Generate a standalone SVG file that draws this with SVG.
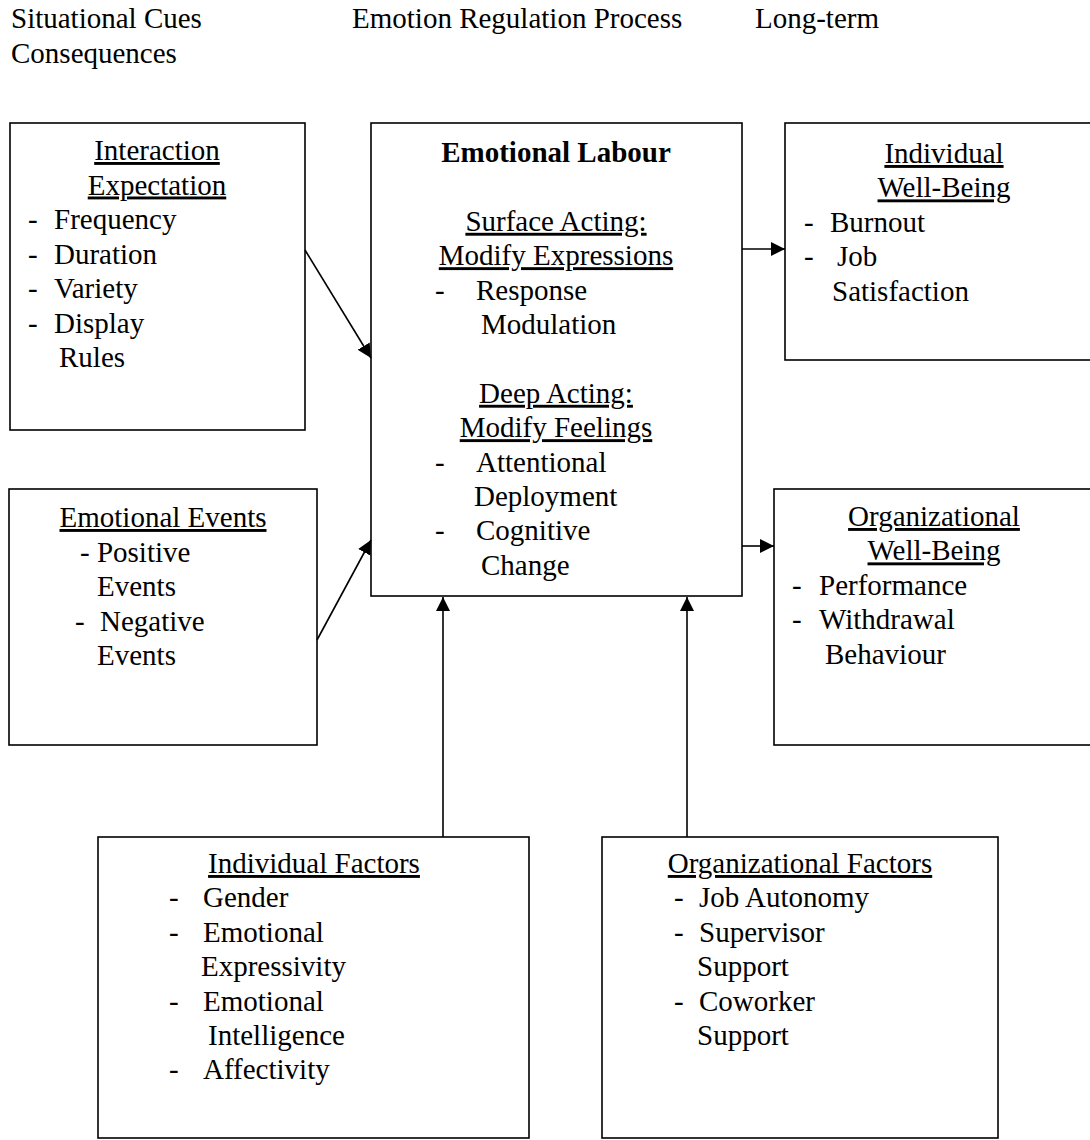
<svg xmlns="http://www.w3.org/2000/svg" width="1090" height="1140" viewBox="0 0 1090 1140">
<style>
text{font-size:29px;fill:#000}
.c{text-anchor:middle}
.u{text-decoration:underline}
.b{font-weight:bold}
.box{fill:#fff;stroke:#000;stroke-width:1.6}
.con{stroke:#000;stroke-width:1.6;fill:none}
</style>
<defs>
<marker id="ah" markerUnits="userSpaceOnUse" markerWidth="15" markerHeight="14" refX="14" refY="7" orient="auto">
<path d="M0,0 L14,7 L0,14 z" fill="#000"/>
</marker>
</defs>
<rect width="1090" height="1140" fill="#fff"/>
<g font-family="Liberation Serif, Tinos, DejaVu Serif, serif">
<g id="header">
<text x="11" y="28">Situational Cues</text>
<text x="11" y="63">Consequences</text>
<text x="352" y="28">Emotion Regulation Process</text>
<text x="755" y="28">Long-term</text>
</g>
<g id="interaction-expectation">
<rect class="box" x="10" y="123" width="295" height="307"/>
<text class="c u" x="157" y="160">Interaction</text>
<text class="c u" x="157" y="194.5">Expectation</text>
<text x="28" y="229">-</text><text x="54" y="229">Frequency</text>
<text x="28" y="263.5">-</text><text x="54" y="263.5">Duration</text>
<text x="28" y="298">-</text><text x="54" y="298">Variety</text>
<text x="28" y="332.5">-</text><text x="54" y="332.5">Display</text>
<text x="59" y="367">Rules</text>
</g>
<g id="emotional-events">
<rect class="box" x="9" y="489" width="308" height="256"/>
<text class="c u" x="163" y="527">Emotional Events</text>
<text x="80" y="562">- Positive</text>
<text x="97" y="596">Events</text>
<text x="75" y="631">-</text><text x="100" y="631">Negative</text>
<text x="97" y="665">Events</text>
</g>
<g id="emotional-labour">
<rect class="box" x="371" y="123" width="371" height="473"/>
<text class="c b" x="556" y="162">Emotional Labour</text>
<text class="c u" x="556" y="230.8">Surface Acting:</text>
<text class="c u" x="556" y="265.2">Modify Expressions</text>
<text x="435" y="299.6">-</text><text x="476" y="299.6">Response</text>
<text x="481" y="334">Modulation</text>
<text class="c u" x="556" y="402.8">Deep Acting:</text>
<text class="c u" x="556" y="437.2">Modify Feelings</text>
<text x="435" y="471.6">-</text><text x="476" y="471.6">Attentional</text>
<text x="474" y="506">Deployment</text>
<text x="435" y="540.4">-</text><text x="476" y="540.4">Cognitive</text>
<text x="481" y="574.8">Change</text>
</g>
<g id="individual-well-being">
<rect class="box" x="785" y="123" width="320" height="237"/>
<text class="c u" x="944" y="163">Individual</text>
<text class="c u" x="944" y="197.4">Well-Being</text>
<text x="804" y="231.8">-</text><text x="830" y="231.8">Burnout</text>
<text x="804" y="266.2">-</text><text x="837" y="266.2">Job</text>
<text x="832" y="300.6">Satisfaction</text>
</g>
<g id="organizational-well-being">
<rect class="box" x="774" y="489" width="330" height="256"/>
<text class="c u" x="934" y="526">Organizational</text>
<text class="c u" x="934" y="560.4">Well-Being</text>
<text x="792" y="594.8">-</text><text x="819" y="594.8">Performance</text>
<text x="792" y="629.2">-</text><text x="819" y="629.2">Withdrawal</text>
<text x="825" y="663.6">Behaviour</text>
</g>
<g id="individual-factors">
<rect class="box" x="98" y="837" width="431" height="301"/>
<text class="c u" x="314" y="873">Individual Factors</text>
<text x="169" y="907.4">-</text><text x="203" y="907.4">Gender</text>
<text x="169" y="941.8">-</text><text x="203" y="941.8">Emotional</text>
<text x="201" y="976.2">Expressivity</text>
<text x="169" y="1010.6">-</text><text x="203" y="1010.6">Emotional</text>
<text x="208" y="1045">Intelligence</text>
<text x="169" y="1079.4">-</text><text x="203" y="1079.4">Affectivity</text>
</g>
<g id="organizational-factors">
<rect class="box" x="602" y="837" width="396" height="301"/>
<text class="c u" x="800" y="873">Organizational Factors</text>
<text x="674" y="907.4">-</text><text x="699" y="907.4">Job Autonomy</text>
<text x="674" y="941.8">-</text><text x="699" y="941.8">Supervisor</text>
<text x="697" y="976.2">Support</text>
<text x="674" y="1010.6">-</text><text x="699" y="1010.6">Coworker</text>
<text x="697" y="1045">Support</text>
</g>
</g>
<g id="connectors">
<line class="con" x1="305" y1="250" x2="371" y2="358" marker-end="url(#ah)"/>
<line class="con" x1="317" y1="640" x2="371" y2="540" marker-end="url(#ah)"/>
<line class="con" x1="742" y1="249" x2="785" y2="249" marker-end="url(#ah)"/>
<line class="con" x1="742" y1="546" x2="774" y2="546" marker-end="url(#ah)"/>
<line class="con" x1="443" y1="837" x2="443" y2="597" marker-end="url(#ah)"/>
<line class="con" x1="687" y1="837" x2="687" y2="597" marker-end="url(#ah)"/>
</g>
</svg>
